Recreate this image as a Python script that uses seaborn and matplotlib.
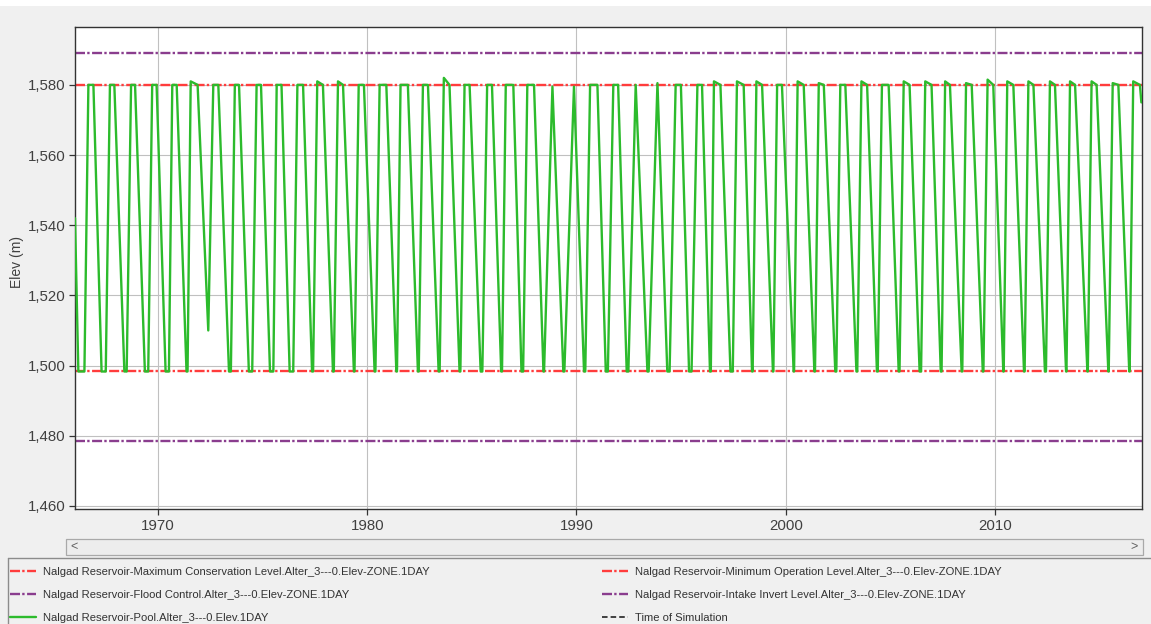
import matplotlib
matplotlib.use("Agg")
import matplotlib.pyplot as plt
from matplotlib.lines import Line2D
from matplotlib.patches import Rectangle
import pandas as pd
import seaborn as sns

# ---- zone levels (m) ----
max_conservation = 1580.0
min_operation = 1498.3
flood_control = 1589.2
intake_invert = 1478.6

zone_labels = [
    "Nalgad Reservoir-Maximum Conservation Level.Alter_3---0.Elev-ZONE.1DAY",
    "Nalgad Reservoir-Flood Control.Alter_3---0.Elev-ZONE.1DAY",
    "Nalgad Reservoir-Minimum Operation Level.Alter_3---0.Elev-ZONE.1DAY",
    "Nalgad Reservoir-Intake Invert Level.Alter_3---0.Elev-ZONE.1DAY",
]
pool_label = "Nalgad Reservoir-Pool.Alter_3---0.Elev.1DAY"
sim_label = "Time of Simulation"

# ---- pool elevation: annual fill / drawdown cycle ----
series_start = (1966.03, 1542.0)
first_empty = 1966.19
series_end = (2017.0, 1575.0)

years = list(range(1966, 2017))
# fractions of the calendar year (drawdown end may fall in the next year)
fill_start = [.48, .50, .50, .53, .52, .41, .40, .48, .50, .51,
              .46, .41, .40, .39, .39, .42, .46, .46, .45, .50,
              .44, .45, .45, .42, .42, .50, .48, .45, .45, .50,
              .42, .47, .42, .41, .40, .40, .42, .42, .40, .44,
              .47, .45, .44, .45, .42, .42, .44, .42, .44, .44,
              .44]
full_reached = [.67, .70, .71, .72, .68, .56, .64, .67, .71, .67,
                .66, .61, .60, .59, .59, .59, .66, .66, .65, .73,
                .62, .65, .85, .88, .65, .76, .83, .87, .74, .78,
                .57, .67, .60, .59, .57, .58, .61, .62, .60, .64,
                .67, .62, .62, .65, .59, .60, .63, .59, .62, .63,
                .61]
drawdown_start = [.91, .91, .90, .93, .89, .89, .88, .87, .92, .90,
                  .93, .88, .84, .84, .91, .94, .90, .93, .89, .96,
                  .98, .97, .85, .88, 1.00, .99, .83, .87, .99, 1.00,
                  .88, .99, .87, .82, .86, .82, .85, .89, .92, .92,
                  .97, .85, .89, .92, .88, .84, .87, .83, .86, .90,
                  .93]
empty_reached = [1.30, 1.39, 1.37, 1.36, 1.36, 1.40, 1.39, 1.34, 1.35, 1.29,
                 1.36, 1.36, 1.36, 1.35, 1.39, 1.42, 1.41, 1.41, 1.42, 1.40,
                 1.37, 1.42, 1.37, 1.36, 1.40, 1.40, 1.39, 1.34, 1.38, 1.38,
                 1.36, 1.39, 1.39, 1.38, 1.37, 1.37, 1.38, 1.36, 1.40, 1.40,
                 1.41, 1.41, 1.42, 1.40, 1.39, 1.39, 1.40, 1.42, 1.42, 1.42,
                 None]
peak_elev = [1580, 1580, 1580, 1580, 1580, 1581, 1580, 1580, 1580, 1580,
             1580, 1581, 1581, 1580, 1580, 1580, 1580, 1582, 1580, 1580,
             1580, 1580, 1579.5, 1579.5, 1580, 1580, 1580, 1580.5, 1580, 1580,
             1581, 1581, 1581, 1580, 1581, 1580.5, 1580, 1581, 1580, 1581,
             1581, 1581, 1580.5, 1581.5, 1581, 1581, 1581, 1581, 1581, 1580.5,
             1581]
low_elev = [1498.3] * 5 + [1510.0] + [1498.3] * 45

# vertices of the daily pool trace
t_pts = [series_start[0], first_empty]
e_pts = [series_start[1], low_elev[0]]
prev_low = low_elev[0]
for i, yr in enumerate(years):
    t_pts += [yr + fill_start[i], yr + full_reached[i]]
    e_pts += [prev_low, peak_elev[i]]
    if drawdown_start[i] > full_reached[i]:
        t_pts.append(yr + drawdown_start[i])
        e_pts.append(max_conservation)
    if empty_reached[i] is None:
        t_pts.append(series_end[0])
        e_pts.append(series_end[1])
    else:
        t_pts.append(yr + empty_reached[i])
        e_pts.append(low_elev[i])
        prev_low = low_elev[i]
pool = pd.DataFrame({"time": t_pts, "elev": e_pts})

# ---- styling ----
sns.set_theme(style="white")
plt.rcParams["font.family"] = ["Liberation Sans", "DejaVu Sans"]
plt.rcParams["lines.scale_dashes"] = False

W, H = 1151, 624
fig = plt.figure(figsize=(W / 100, H / 100), dpi=100, facecolor="#f0f0f0")
fig.patches.append(Rectangle((0, 1 - 6 / H), 1, 6 / H, transform=fig.transFigure,
                             facecolor="white", edgecolor="none", zorder=0))
ax = fig.add_axes([75 / W, (H - 509) / H, (1142 - 75) / W, (509 - 27) / H])
ax.set_facecolor("white")

RED = "#ff3c3c"
PURPLE = "#8a3d8e"
GREEN = "#2cbb2c"
dashdot = (0, (7.2, 1.6, 1.7, 1.8))

ax.axhline(max_conservation, color=RED, lw=1.7, ls=dashdot, dash_capstyle="butt",
           label=zone_labels[0], zorder=2)
ax.axhline(flood_control, color=PURPLE, lw=1.7, ls=dashdot, dash_capstyle="butt",
           label=zone_labels[1], zorder=2)
ax.axhline(min_operation, color=RED, lw=1.7, ls=dashdot, dash_capstyle="butt",
           label=zone_labels[2], zorder=2)
ax.axhline(intake_invert, color=PURPLE, lw=1.7, ls=dashdot, dash_capstyle="butt",
           label=zone_labels[3], zorder=2)

sns.lineplot(data=pool, x="time", y="elev", estimator=None, sort=False,
             color=GREEN, lw=1.7, ax=ax, zorder=3, label=pool_label, legend=False)

ax.set_xlim(1966.03, 2017.03)
ax.set_ylim(1459.1, 1596.5)
ax.set_xticks([1970, 1980, 1990, 2000, 2010])
ax.set_yticks(list(range(1460, 1581, 20)))
ax.set_yticklabels([f"{v:,}" for v in range(1460, 1581, 20)])
ax.grid(True, color="#c0c0c0", lw=0.8)
ax.set_axisbelow(True)
for s in ax.spines.values():
    s.set_color("#333333")
    s.set_linewidth(1.0)
ax.tick_params(axis="both", direction="out", length=4, width=0.9, color="#333333",
               labelsize=10.8, labelcolor="#404040", pad=3,
               bottom=True, left=True)
ax.set_xlabel("")
ax.set_ylabel("Elev (m)", fontsize=10, color="#404040")
ax.yaxis.set_label_coords((24 - 75) / 1067, (509 - 262) / 482)

# ---- horizontal scroll bar under the plot ----
fig.patches.append(Rectangle((66 / W, (H - 555) / H), (1143 - 66) / W, 16 / H,
                             transform=fig.transFigure, facecolor="#ededed",
                             edgecolor="#a9a9a9", lw=0.9, zorder=1))
fig.text(74 / W, (H - 547) / H, "<", fontsize=9, color="#606060", va="center", ha="center")
fig.text(1134 / W, (H - 547) / H, ">", fontsize=9, color="#606060", va="center", ha="center")

# ---- legend panel ----
fig.lines.append(Line2D([8 / W, 1], [(H - 558) / H] * 2, transform=fig.transFigure,
                        color="#8c8c8c", lw=1.0))
fig.lines.append(Line2D([8 / W, 8 / W], [(H - 558) / H, 0], transform=fig.transFigure,
                        color="#8c8c8c", lw=1.0))

handles = {h.get_label(): h for h in ax.get_lines()}
sim_handle = Line2D([], [], color="#222222", lw=1.2, ls=(0, (4, 2.2)), dash_capstyle="butt")
legend_size = 8.1
fs_px = legend_size * 100 / 72
leg_kw = dict(loc="upper left", frameon=False,
              prop={"family": ["Liberation Sans"], "size": legend_size},
              handlelength=26 / fs_px, handletextpad=7 / fs_px,
              labelspacing=1.14, borderpad=0, borderaxespad=0,
              labelcolor="#333333")
col1 = [zone_labels[0], zone_labels[1], pool_label]
col2 = [zone_labels[2], zone_labels[3]]
fig.legend([handles[k] for k in col1], col1,
           bbox_to_anchor=(10 / W, (H - 567) / H), **leg_kw)
fig.legend([handles[k] for k in col2] + [sim_handle], col2 + [sim_label],
           bbox_to_anchor=(602 / W, (H - 567) / H), **leg_kw)

fig.savefig("out.png", dpi=100, facecolor=fig.get_facecolor())
